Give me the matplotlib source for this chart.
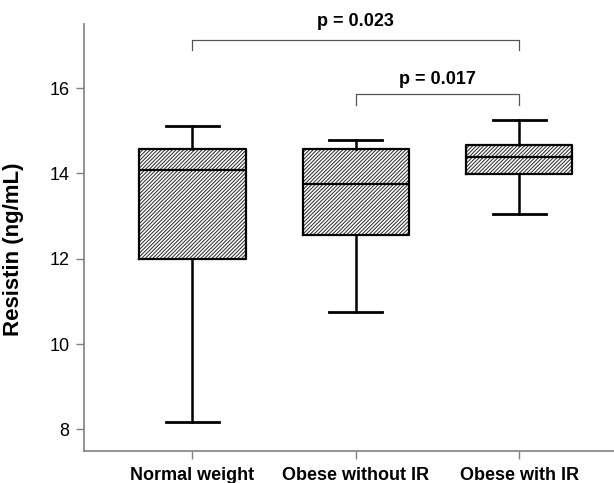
import matplotlib
matplotlib.use("Agg")
import matplotlib.pyplot as plt

plt.rcParams["font.family"] = ["Liberation Sans", "DejaVu Sans"]
plt.rcParams["hatch.linewidth"] = 0.75
plt.rcParams["hatch.color"] = "#333333"

# box summaries per group (ng/mL)
groups = ["Normal weight", "Obese without IR", "Obese with IR"]
whis_lo = [8.17, 10.76, 13.05]
q1 = [12.0, 12.56, 13.99]
median = [14.08, 13.75, 14.39]
q3 = [14.57, 14.56, 14.67]
whis_hi = [15.12, 14.78, 15.26]

# pairwise comparisons: (left group, right group, bar height, leg end, label)
pairs_left = [1, 2]
pairs_right = [3, 3]
bar_y = [17.12, 15.87]
leg_y = [16.89, 15.61]
p_labels = ["p = 0.023", "p = 0.017"]
p_text_y = [17.46, 16.09]

fig = plt.figure(figsize=(6.14, 4.83), dpi=100)
ax = fig.add_axes([84 / 614, 32.3 / 483, 530 / 614, 426.7 / 483])

stats = []
for g, lo, a, m, b, hi in zip(groups, whis_lo, q1, median, q3, whis_hi):
    stats.append(dict(label=g, whislo=lo, q1=a, med=m, q3=b, whishi=hi, fliers=[]))

pos = [1, 2, 3]
bp = ax.bxp(stats, positions=pos, widths=0.65, capwidths=0.325,
            patch_artist=True, showfliers=False,
            boxprops=dict(facecolor="white", edgecolor="#333333", linewidth=0, hatch="/" * 9),
            medianprops=dict(color="black", linewidth=1.6),
            whiskerprops=dict(color="black", linewidth=1.8),
            capprops=dict(color="black", linewidth=2.0))

# black outline drawn over the hatched fill
for box in bp["boxes"]:
    verts = box.get_path().vertices
    ax.plot(verts[:, 0], verts[:, 1], color="black", linewidth=1.6, zorder=box.get_zorder() + 0.1)

for a, b, y, leg, lab, ty in zip(pairs_left, pairs_right, bar_y, leg_y, p_labels, p_text_y):
    ax.plot([a, a, b, b], [leg, y, y, leg], color="#555555", linewidth=0.9, clip_on=False)
    ax.text((a + b) / 2, ty, lab, ha="center", va="baseline", fontsize=13,
            fontweight="bold", clip_on=False)

ax.set_xlim(0.336, 3.58)
ax.set_ylim(7.5, 17.5)
ax.set_yticks([8, 10, 12, 14, 16])
ax.set_xticks(pos)
ax.set_xticklabels(groups, fontsize=13, fontweight="bold")

for side in ["top", "right"]:
    ax.spines[side].set_visible(False)
for side in ["left", "bottom"]:
    ax.spines[side].set_color("#808080")
    ax.spines[side].set_linewidth(1.2)

ax.tick_params(axis="both", direction="out", length=5.5, width=1, color="#808080")
ax.tick_params(axis="y", labelsize=13, pad=5)
ax.tick_params(axis="x", pad=6)

ax.set_ylabel("Resistin (ng/mL)", fontsize=16, fontweight="bold")
ax.yaxis.set_label_coords(-0.113, 0.473)

fig.savefig("out.png", dpi=100)
